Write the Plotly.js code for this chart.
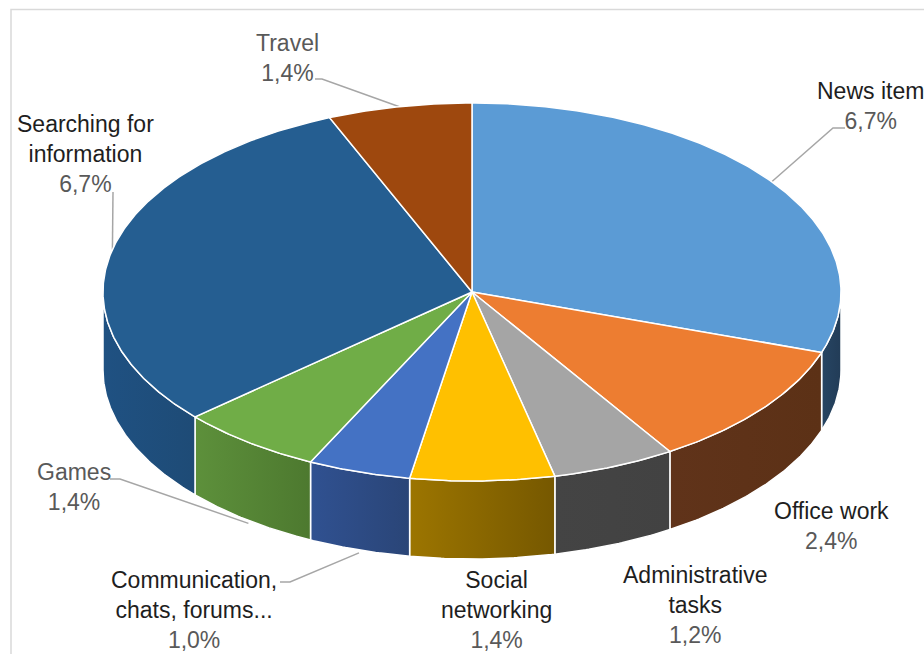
<!DOCTYPE html>
<html><head><meta charset="utf-8">
<script src="https://cdn.plot.ly/plotly-3.0.1.min.js"></script>
<style>html,body{margin:0;padding:0;background:#fff}#chart{width:924px;height:654px}</style>
</head><body><div id="chart"></div>
<script>
// ---- data ----
const categories = ["News item","Office work","Administrative tasks","Social networking","Communication, chats, forums...","Games","Searching for information","Travel"];
const values = [6.7, 2.4, 1.2, 1.4, 1.0, 1.4, 6.7, 1.4];
const valueLabels = ["6,7%","2,4%","1,2%","1,4%","1,0%","1,4%","6,7%","1,4%"];
const labelLines = ["News item","Office work","Administrative<br>tasks","Social<br>networking","Communication,<br>chats, forums...","Games","Searching for<br>information","Travel"];

// ---- styles ----
const topColors = ["#5B9BD5","#ED7D31","#A5A5A5","#FFC000","#4472C4","#70AD47","#255E91","#9E480E"];
const sideLeft  = ["#274563","#60331A","#444444","#9C7500","#305191","#5D903B","#1F5182","#6B300A"];
const sideRight = ["#223C57","#5C3116","#424242","#765800","#2A4577","#4D792F","#1E4B76","#5E2A08"];
const nameColors = ["#1e1e1e","#1e1e1e","#1e1e1e","#1e1e1e","#1e1e1e","#595959","#1e1e1e","#595959"];
// label block centres (px) and leader start points (px)
const labelPos = [[870,106],[831,526],[695,605],[497,610],[194,610],[74,487],[85,154],[287,58]];
const leaderStart = {7:[[315,79],[322,79]], 0:[[845,128],[833,128]], 6:[[113,192]], 4:[[280,582],[290,582]], 5:[[110,479],[120,479]]};

// ---- geometry ----
const W=924, H=654, CX=472, CY=292, RX=369, RY=189, DEPTH=78;
const total = values.reduce((a,b)=>a+b,0);
let acc = 0;
const slices = values.map(v => { const a = acc/total*2*Math.PI; acc += v; return {a, b: acc/total*2*Math.PI}; });
function pt(t, d){ return [CX + RX*Math.sin(t), CY - RY*Math.cos(t) + (d||0)]; }
function arc(a, b, d){
  const n = Math.max(2, Math.ceil((b-a)/(Math.PI/360)));
  const xs=[], ys=[];
  for(let k=0;k<=n;k++){ const p = pt(a+(b-a)*k/n, d); xs.push(p[0]); ys.push(p[1]); }
  return [xs, ys];
}
const traces = [];
// leader lines
Object.keys(leaderStart).forEach(k => {
  const i = +k, s = slices[i], mid = (s.a+s.b)/2;
  const anc = pt(mid, Math.cos(mid) < 0 ? DEPTH + 3 : 0);
  const pts = leaderStart[k].concat([anc]);
  traces.push({type:'scatter', mode:'lines', x:pts.map(p=>p[0]), y:pts.map(p=>p[1]),
    line:{color:'#A6A6A6', width:1.5}, hoverinfo:'skip', showlegend:false});
});
// side walls (front half only)
slices.forEach((s,i) => {
  const a = Math.max(s.a, Math.PI/2), b = Math.min(s.b, 3*Math.PI/2);
  if (b <= a) return;
  const top = arc(a,b,0), bot = arc(a,b,DEPTH);
  const x = top[0].concat(bot[0].slice().reverse()); const y = top[1].concat(bot[1].slice().reverse());
  x.push(x[0]); y.push(y[0]);
  traces.push({type:'scatter', mode:'lines', x, y, fill:'toself', fillcolor: sideRight[i],
    fillgradient:{type:'horizontal', colorscale:[[0, sideLeft[i]],[1, sideRight[i]]]},
    line:{color:'#ffffff', width:1.5}, hoverinfo:'skip', showlegend:false, name: categories[i]});
});
// top faces
slices.forEach((s,i) => {
  const ar = arc(s.a, s.b, 0);
  const x = [CX].concat(ar[0], [CX]), y = [CY].concat(ar[1], [CY]);
  traces.push({type:'scatter', mode:'lines', x, y, fill:'toself', fillcolor: topColors[i],
    line:{color:'#ffffff', width:1.5}, hoverinfo:'skip', showlegend:false, name: categories[i]});
});

const annotations = categories.map((c,i) => ({
  xref:'paper', yref:'paper', x: labelPos[i][0]/W, y: 1 - labelPos[i][1]/H,
  xanchor:'center', yanchor:'middle', showarrow:false, align:'center',
  text: '<span style="color:'+nameColors[i]+'">'+labelLines[i]+'</span><br><span style="color:#595959">'+valueLabels[i]+'</span>',
  font:{family:'Liberation Sans, Arial, sans-serif', size:23, color:'#1e1e1e'}
}));

const layout = {
  width: W, height: H, margin:{l:0,r:0,t:0,b:0},
  paper_bgcolor:'#ffffff', plot_bgcolor:'#ffffff',
  xaxis:{range:[0,W], visible:false, fixedrange:true},
  yaxis:{range:[H,0], visible:false, fixedrange:true},
  showlegend:false, annotations,
  shapes:[{type:'rect', xref:'paper', yref:'paper', x0:11/W, x1:1.02, y0:-0.02, y1:1-9.5/H,
    line:{color:'#D9D9D9', width:1.5}, fillcolor:'rgba(0,0,0,0)'}]
};
Plotly.newPlot('chart', traces, layout, {displayModeBar:false, staticPlot:true});
</script></body></html>
